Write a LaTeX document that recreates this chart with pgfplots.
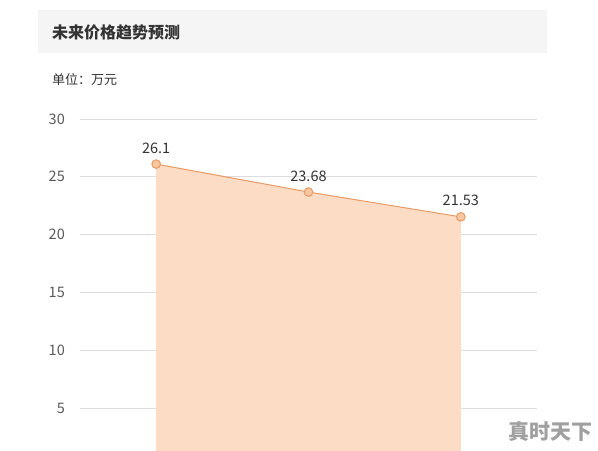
\documentclass[border=0pt]{standalone}
\usepackage{pgfplots}
\pgfplotsset{compat=1.18}
\usepackage{fontspec}
\setmainfont{Noto Sans CJK SC}
\definecolor{areafill}{HTML}{FDDCC5}
\definecolor{linec}{HTML}{E89A62}
\definecolor{markfill}{HTML}{F9C6A2}
\definecolor{barbg}{HTML}{F5F5F5}
\definecolor{gridc}{HTML}{DDDDDD}
\definecolor{titlec}{HTML}{333333}
\definecolor{tickc}{HTML}{5A5A5A}
\definecolor{wmc}{HTML}{A0A0A0}
\begin{document}
\begin{tikzpicture}[x=1bp,y=1bp]
\fill[white] (0,0) rectangle (598,451);
\fill[barbg] (38,398) rectangle (547,441);
\node[anchor=west, inner sep=0pt, text=titlec, font=\fontsize{16bp}{18bp}\selectfont\bfseries] at (52,419) {未来价格趋势预测};
\node[anchor=west, inner sep=0pt, text=titlec, font=\fontsize{13bp}{15bp}\selectfont] at (52,371) {单位：万元};
\begin{axis}[
  at={(80bp,0bp)}, anchor=south west,
  scale only axis, width=457bp, height=332bp,
  xmin=-0.5, xmax=2.5, ymin=1.28, ymax=30,
  axis line style={draw=none},
  tick style={draw=none},
  xtick=\empty,
  ytick={5,10,15,20,25,30},
  ymajorgrids,
  grid style={gridc, line width=0.8bp},
  yticklabel style={text=tickc, font=\fontsize{14.5bp}{16bp}\selectfont, inner sep=0pt, xshift=-15bp},
  /pgf/number format/assume math mode=true,
  clip=true,
]
\addplot[fill=areafill, draw=none] coordinates {(0,26.1) (1,23.68) (2,21.53)} \closedcycle;
\addplot[linec, line width=1bp, mark=*, mark size=4.3bp,
  mark options={fill=markfill, draw=linec, line width=1bp},
  nodes near coords, point meta=explicit symbolic,
  every node near coord/.style={text=titlec, font=\fontsize{14.5bp}{16bp}\selectfont, yshift=7bp}]
  coordinates {(0,26.1) [26.1] (1,23.68) [23.68] (2,21.53) [21.53]};
\end{axis}
\node[text=wmc, font=\fontsize{21bp}{23bp}\selectfont\bfseries, inner sep=0pt] at (550,19) {真时天下};
\end{tikzpicture}
\end{document}
